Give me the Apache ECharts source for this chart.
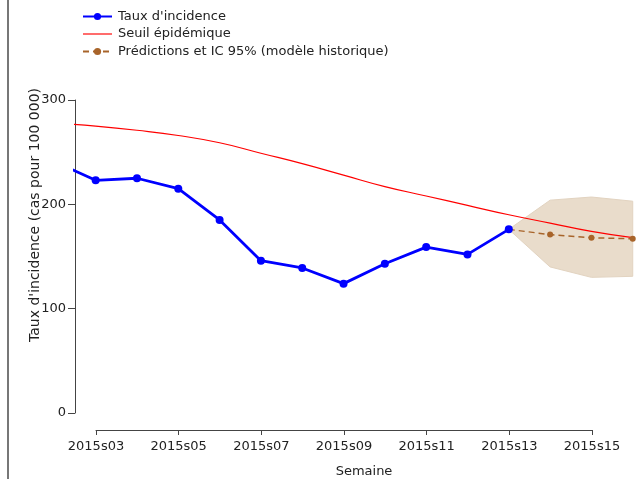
<!DOCTYPE html>
<html>
<head>
<meta charset="utf-8">
<script src="https://cdn.jsdelivr.net/npm/echarts@6/dist/echarts.min.js"></script>
<style>html,body{margin:0;padding:0;background:#fff}#c{width:641px;height:479px}</style>
</head>
<body>
<div id="c"></div>
<script>
// Weeks (numeric week of 2015)
const weeks = [2, 3, 4, 5, 6, 7, 8, 9, 10, 11, 12, 13];
const incidence = [241, 223, 225, 215, 185, 146, 139, 124, 143, 159, 152, 176];
const thresholdWeeks = [2, 3, 4, 5, 6, 7, 8, 9, 10, 11, 12, 13, 14, 15, 16];
const threshold = [278, 275, 271, 266, 259, 249, 239, 228, 217, 208, 199, 190, 182, 174, 168];
const predWeeks = [13, 14, 15, 16];
const predictions = [176, 171, 168, 167];
const ciLower = [176, 140, 130, 131];
const ciUpper = [176, 204, 207, 203];
const xTickWeeks = [3, 5, 7, 9, 11, 13, 15];
const yTicks = [0, 100, 200, 300];
const seriesNames = ["Taux d'incidence", "Seuil épidémique", "Prédictions et IC 95% (modèle historique)"];

const FONT = 'DejaVu Sans';
const TXT = '#222';
const AX = '#444';
const pair = (xs, ys) => xs.map((x, i) => [x, ys[i]]);
const fmtWeek = v => '2015s' + String(v).padStart(2, '0');

const chart = echarts.init(document.getElementById('c'), null, {renderer: 'canvas'});
chart.setOption({
  animation: false,
  backgroundColor: '#fff',
  textStyle: {fontFamily: FONT},
  legend: {
    data: [
      {name: seriesNames[0]},
      {name: seriesNames[1], icon: 'path://M0,0L40,0L40,1.6L0,1.6Z'},
      {name: seriesNames[2]}
    ],
    orient: 'vertical',
    left: 77, top: 5,
    itemWidth: 29, itemHeight: 9, itemGap: 4.5,
    textStyle: {fontFamily: FONT, fontSize: 13, color: TXT, padding: [0, 0, 0, 1]}
  },
  grid: [
    {left: 75, right: 0, top: 100, bottom: 66},
    {left: 96, width: 496, top: 429, height: 1}
  ],
  xAxis: [
    {type: 'value', gridIndex: 0, min: 2.5, max: 16.2, show: false},
    {type: 'value', gridIndex: 1, min: xTickWeeks[0], max: xTickWeeks[xTickWeeks.length - 1], interval: 2,
     position: 'bottom',
     axisLine: {show: true, lineStyle: {color: AX, width: 1}},
     axisTick: {show: true, length: 5, lineStyle: {color: AX}},
     axisLabel: {show: true, margin: 10, formatter: fmtWeek, fontFamily: FONT, fontSize: 13, color: TXT},
     splitLine: {show: false}}
  ],
  yAxis: [
    {type: 'value', gridIndex: 0, min: yTicks[0], max: yTicks[yTicks.length - 1], interval: 100,
     axisLine: {show: true, lineStyle: {color: AX, width: 1}},
     axisTick: {show: true, length: 7, lineStyle: {color: AX}},
     axisLabel: {show: true, margin: 9, fontFamily: FONT, fontSize: 13, color: TXT},
     splitLine: {show: false}},
    {type: 'value', gridIndex: 1, show: false}
  ],
  graphic: [
    {type: 'line', shape: {x1: 8, y1: 0, x2: 8, y2: 479}, style: {stroke: '#777', lineWidth: 2}, silent: true},
    {type: 'text', x: 35, y: 215, rotation: Math.PI / 2,
     style: {text: "Taux d'incidence (cas pour 100 000)", font: '14px "DejaVu Sans"', fill: TXT,
             textAlign: 'center', textVerticalAlign: 'middle'}},
    {type: 'text', x: 364, y: 472,
     style: {text: 'Semaine', font: '13px "DejaVu Sans"', fill: TXT,
             textAlign: 'center', textVerticalAlign: 'middle'}}
  ],
  series: [
    {
      name: 'IC', type: 'custom', xAxisIndex: 0, yAxisIndex: 0, z: 1,
      data: [[predWeeks[0], ciLower[0]]],
      renderItem: function (params, api) {
        const pts = [];
        predWeeks.forEach((w, i) => pts.push(api.coord([w, ciUpper[i]])));
        for (let i = predWeeks.length - 1; i >= 0; i--) pts.push(api.coord([predWeeks[i], ciLower[i]]));
        return {type: 'polygon', shape: {points: pts}, style: {fill: '#E9DCCB', stroke: '#E2D3C0', lineWidth: 1}};
      },
      silent: true
    },
    {
      name: seriesNames[1], type: 'line', smooth: true, showSymbol: false, symbol: 'none', z: 3,
      data: pair(thresholdWeeks, threshold),
      lineStyle: {color: '#FF0000', width: 1.2}, itemStyle: {color: '#FF0000'}
    },
    {
      name: seriesNames[2], type: 'line', z: 4,
      data: pair(predWeeks, predictions),
      symbol: 'circle', symbolSize: 6,
      lineStyle: {color: '#A8642A', width: 1.5, type: [6, 4]}, itemStyle: {color: '#A8642A'}
    },
    {
      name: seriesNames[0], type: 'line', z: 5,
      data: pair(weeks, incidence),
      symbol: 'circle', symbolSize: 8,
      lineStyle: {color: '#0000FF', width: 2.8}, itemStyle: {color: '#0000FF'}
    }
  ]
});
</script>
</body>
</html>
